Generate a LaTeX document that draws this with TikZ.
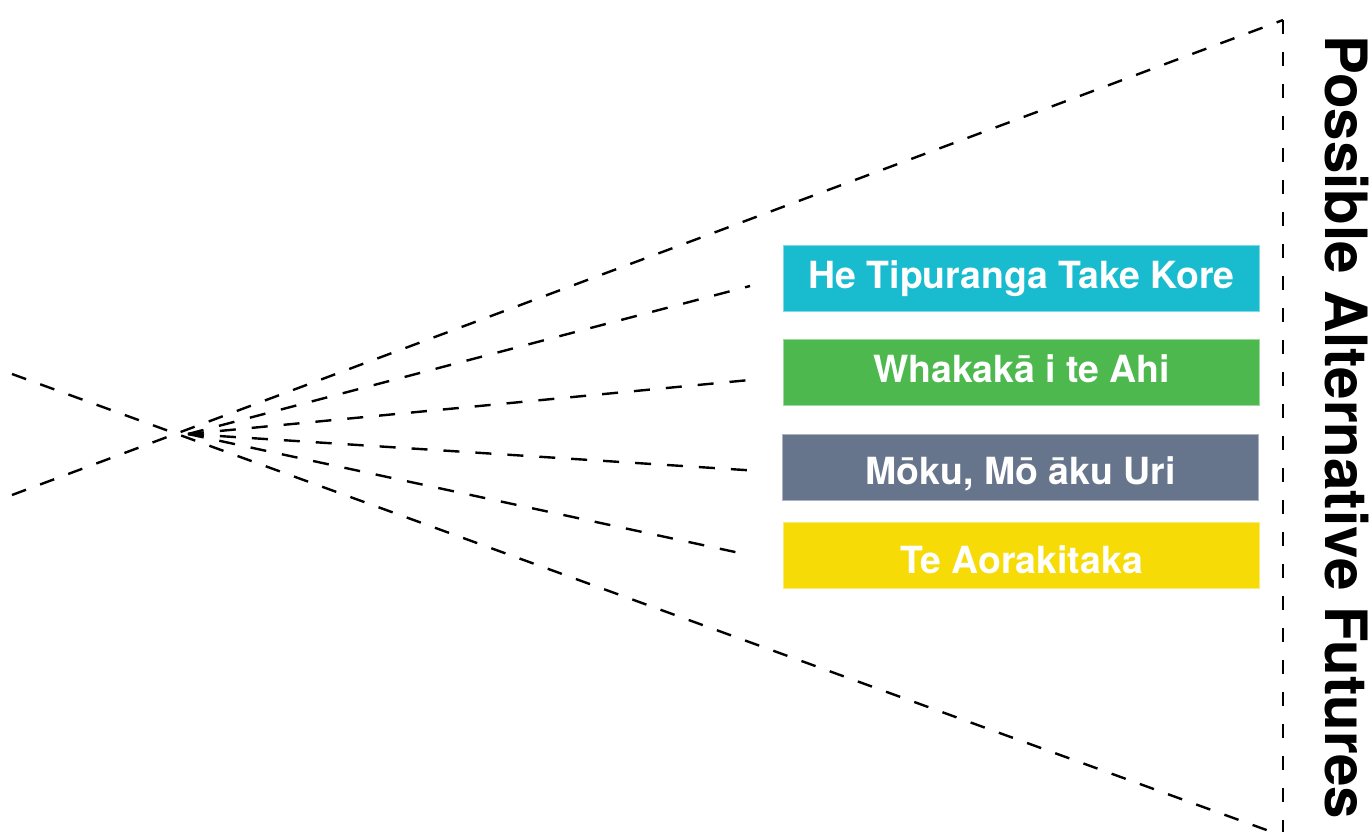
\documentclass[tikz,border=0pt]{standalone}
\usepackage{fontspec}
\setmainfont{TeX Gyre Heros}
\definecolor{tipu}{HTML}{19BBCF}
\definecolor{ahi}{HTML}{4CB84E}
\definecolor{uri}{HTML}{67758C}
\definecolor{aoraki}{HTML}{F7DB06}
\begin{document}
\begin{tikzpicture}[x=1pt,y=-1pt,
  guide/.style={line width=2.4pt, dash pattern=on 15pt off 15pt},
  rim/.style={line width=2.4pt, dash pattern=on 14pt off 18pt},
  spoke/.style={line width=2.4pt, dash pattern=on 16pt off 16pt},
  future/.style={anchor=north west, minimum width=476pt, minimum height=66pt,
    inner sep=0pt, text=white, line width=1.2pt,
    font=\fontsize{37.4}{40}\selectfont\bfseries,
    text height=26pt, text depth=7pt},
  heading/.style={rotate=-90, anchor=base west, inner sep=0pt,
    font=\fontsize{58.3}{62}\selectfont\bfseries},
]
\useasboundingbox (0,0) rectangle (1370,831);
\clip (0,0) rectangle (1370,831);

% the cone of futures
\coordinate (upL) at (12,374);
\coordinate (loL) at (12,495);
\coordinate (apexT) at (1283,20);
\coordinate (apexB) at (1283,836);
\coordinate (hub) at (188,434);

\draw[guide] (upL) -- (apexB);
\draw[guide] (loL) -- (apexT);
\draw[rim] (apexT) -- (apexB);

% the four scenarios
\node[future, fill=tipu, draw=tipu!55!white] (tipu) at (783,245) {He Tipuranga Take Kore};
\node[future, fill=ahi, draw=ahi!55!white] (ahi) at (783,339) {Whakakā i te Ahi};
\node[future, fill=uri, draw=uri!55!white] (uri) at (782,434) {\raisebox{-7.5pt}{Mōku, Mō āku Uri}};
\node[future, fill=aoraki, draw=aoraki!55!white] (aoraki) at (783,522) {\raisebox{-8pt}{Te Aorakitaka}};

% spokes from the present towards each scenario
\coordinate (tipuEnd) at (750,286);
\coordinate (ahiEnd) at (760,379);
\coordinate (uriEnd) at (760,471);
\coordinate (aorakiEnd) at (749,555);
\draw[spoke] (hub) -- (tipuEnd);
\draw[spoke] (hub) -- (ahiEnd);
\draw[spoke] (hub) -- (uriEnd);
\draw[spoke] (hub) -- (aorakiEnd);

\node[heading] (title) at (1325,35) {Possible Alternative Futures};
\end{tikzpicture}
\end{document}
